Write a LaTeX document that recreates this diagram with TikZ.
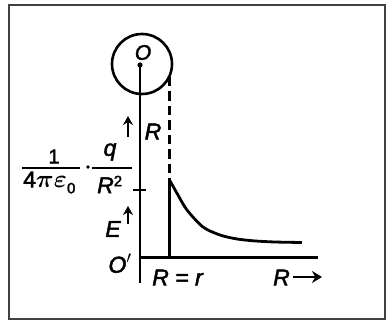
\documentclass[tikz,border=0pt]{standalone}
\usepackage{fontspec}
\usepackage{amsmath}
\setmainfont{Liberation Sans}
\newfontfamily\lblfont{Liberation Sans}[FakeBold=2]
\usetikzlibrary{arrows.meta}
\begin{document}
\begin{tikzpicture}[x=1pt,y=-1pt,
  ax/.style={line width=2.7pt},
  lbl/.style={font=\fontsize{23}{26}\lblfont\itshape, inner sep=0pt},
  uparr/.style={line width=2.8pt,-{Stealth[length=9pt,width=10pt]}}]
\useasboundingbox (0,0) rectangle (386,320);
\draw[line width=1.7pt, black!75] (8.7,5.3) rectangle (385.3,319.2);
% sphere
\node[draw, circle, minimum size=60pt, line width=2.6pt, inner sep=0pt] (sph) at (142,64) {};
\node[lbl, font=\fontsize{21}{23}\lblfont\itshape] (O) at (143,52.5) {O};
\coordinate (top) at (140,65);
\fill (top) circle (2.6pt);
\coordinate (bot) at (140,283);
\coordinate (org) at (140,257.5);
\coordinate (xend) at (318,257.5);
\draw[ax] (top) -- (bot);
\draw[ax] (org) -- (xend);
% dashed and wall
\coordinate (dtop) at (169.5,77);
\coordinate (peak) at (169.5,180);
\coordinate (foot) at (169.5,257.5);
\draw[line width=2.4pt, dash pattern=on 9.5pt off 5pt] (dtop) -- (peak);
\draw[ax] (peak) -- (foot);
\draw[line width=2.8pt] plot[smooth] coordinates {(169.5,180) (178,195) (187,210) (203,227) (220,235) (236,238.8) (253,240.8) (275,242) (302,242.5)};
% tick
\coordinate (tk1) at (133,190);
\coordinate (tk2) at (146,190);
\draw[line width=2.4pt] (tk1) -- (tk2);
% labels
\node[lbl] (Rl) at (153,131.5) {R};
\coordinate (a1s) at (128,137);
\coordinate (a1e) at (128,116);
\draw[uparr] (a1s) -- (a1e);
\node[lbl] (El) at (113,229) {E};
\coordinate (a2s) at (128,224);
\coordinate (a2e) at (128,206);
\draw[uparr] (a2s) -- (a2e);
\node[lbl] (Op) at (120,263.5) {O$'$};
\node[lbl] (Rr) at (177.5,277.5) {R = r};
\node[lbl] (Rx) at (281.5,277.5) {R};
\coordinate (a3s) at (293,277);
\coordinate (a3e) at (322,277);
\draw[line width=2.8pt,-{Stealth[length=10pt,width=12pt]}] (a3s) -- (a3e);
% fractions
\coordinate (f1a) at (22,168);
\coordinate (f1b) at (80,168);
\draw[line width=1.7pt] (f1a) -- (f1b);
\node[lbl, font=\fontsize{20}{22}\lblfont] (one) at (54,156.5) {1};
\node[lbl, font=\fontsize{23}{25}\lblfont, anchor=west] (den1) at (23,182.5) {4$\boldsymbol{\pi\varepsilon}$\raisebox{-6pt}{\fontsize{15}{16}\lblfont 0}};
\fill (88,167) circle (1.8pt);
\coordinate (f2a) at (92,168);
\coordinate (f2b) at (132,168);
\draw[line width=1.7pt] (f2a) -- (f2b);
\node[lbl] (q) at (110,152) {q};
\node[lbl, anchor=west] (R2) at (97,184.5) {R\raisebox{7pt}{\fontsize{15}{16}\lblfont\upshape 2}};
\end{tikzpicture}
\end{document}
